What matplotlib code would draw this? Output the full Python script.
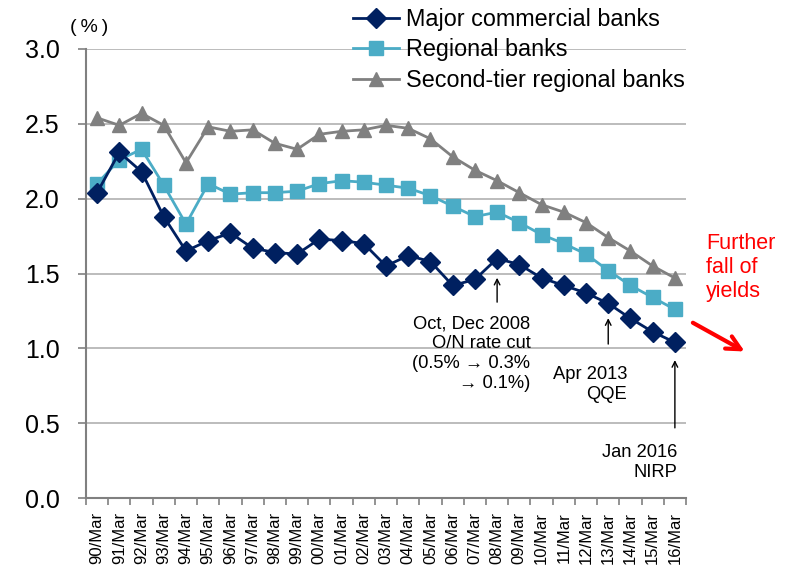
import matplotlib
matplotlib.use("Agg")
import matplotlib.pyplot as plt

plt.rcParams['font.family'] = ['Liberation Sans', 'DejaVu Sans']

years = ["90", "91", "92", "93", "94", "95", "96", "97", "98", "99", "00", "01", "02",
         "03", "04", "05", "06", "07", "08", "09", "10", "11", "12", "13", "14", "15", "16"]
labels = [y + "/Mar" for y in years]

major = [2.04, 2.31, 2.18, 1.88, 1.65, 1.72, 1.77, 1.67, 1.64, 1.63, 1.73, 1.72, 1.70,
         1.55, 1.62, 1.58, 1.42, 1.46, 1.60, 1.56, 1.47, 1.42, 1.37, 1.30, 1.20, 1.11, 1.04]
regional = [2.10, 2.26, 2.33, 2.09, 1.83, 2.10, 2.03, 2.04, 2.04, 2.05, 2.10, 2.12, 2.11,
            2.09, 2.07, 2.02, 1.95, 1.88, 1.91, 1.84, 1.76, 1.70, 1.63, 1.52, 1.42, 1.34, 1.26]
second = [2.54, 2.49, 2.57, 2.49, 2.24, 2.48, 2.45, 2.46, 2.37, 2.33, 2.43, 2.45, 2.46,
          2.49, 2.47, 2.40, 2.28, 2.19, 2.12, 2.04, 1.96, 1.91, 1.84, 1.74, 1.65, 1.55, 1.47]

fig = plt.figure(figsize=(7.85, 5.71), dpi=100)
ax = fig.add_axes([86 / 785, 73 / 571, 600 / 785, 449 / 571])

x = list(range(len(labels)))
l1, = ax.plot(x, major, color='#002060', marker='D', markersize=10.5, lw=2, zorder=5)
l2, = ax.plot(x, regional, color='#4BACC6', marker='s', markersize=10, lw=2, zorder=4)
l3, = ax.plot(x, second, color='#808080', marker='^', markersize=10.5, lw=2, zorder=3)

ax.set_xlim(-0.5, len(labels) - 0.5)
ax.set_ylim(0, 3.0)
ax.set_yticks([0, 0.5, 1.0, 1.5, 2.0, 2.5, 3.0])
ax.set_yticklabels(["0.0", "0.5", "1.0", "1.5", "2.0", "2.5", "3.0"], fontsize=18)
ax.yaxis.grid(True, color='#B0B0B0', lw=1.2)
ax.set_axisbelow(True)

ax.set_xticks([i - 0.5 for i in range(len(labels) + 1)])
ax.set_xticklabels([])
ax.set_xticks(x, minor=True)
ax.set_xticklabels(labels, minor=True, rotation=90, fontsize=12)
ax.tick_params(axis='x', which='minor', length=0, pad=10)
ax.tick_params(axis='x', which='major', length=5, color='#808080', width=1.2)
ax.tick_params(axis='y', length=6, color='#808080', width=1.2, pad=13)

for s in ['top', 'right']:
    ax.spines[s].set_visible(False)
ax.spines['left'].set_color('#808080')
ax.spines['bottom'].set_color('#808080')
ax.spines['left'].set_linewidth(1.5)
ax.spines['bottom'].set_linewidth(1.5)

fig.text(70 / 785, 1 - 27 / 571, "(\u2009%\u2009)", fontsize=14, va='center', ha='left')

fig.legend([l1, l2, l3], ["Major commercial banks", "Regional banks", "Second-tier regional banks"],
           loc='upper left', bbox_to_anchor=(353 / 785, 1 - 8 / 571), frameon=False,
           fontsize=16.8, handlelength=1.95, handletextpad=0.3, labelspacing=0.32,
           borderaxespad=0, borderpad=0)

arrowprops = dict(arrowstyle='->', color='black', lw=1)
ax.annotate("", xy=(18, 1.49), xytext=(18, 1.29), arrowprops=arrowprops)
ax.text(19.5, 1.22, "Oct, Dec 2008\nO/N rate cut\n(0.5% \u2192 0.3%\n\u2192 0.1%)",
        ha='right', va='top', fontsize=13.2, linespacing=1.22)
ax.annotate("", xy=(23, 1.22), xytext=(23, 1.01), arrowprops=arrowprops)
ax.text(23.85, 0.88, "Apr 2013\nQQE", ha='right', va='top', fontsize=13.2, linespacing=1.22)
ax.annotate("", xy=(26, 0.94), xytext=(26, 0.45), arrowprops=arrowprops)
ax.text(26.1, 0.36, "Jan 2016\nNIRP", ha='right', va='top', fontsize=13.2, linespacing=1.22)

ax.text(27.4, 1.54, "Further\nfall of\nyields", color='red', fontsize=15.5, ha='left', va='center',
        linespacing=1.2, clip_on=False)
ax.annotate("", xy=(29.25, 0.97), xytext=(26.7, 1.18), annotation_clip=False,
            arrowprops=dict(arrowstyle='->', color='red', lw=3, mutation_scale=25))

fig.savefig("out.png", dpi=100)
